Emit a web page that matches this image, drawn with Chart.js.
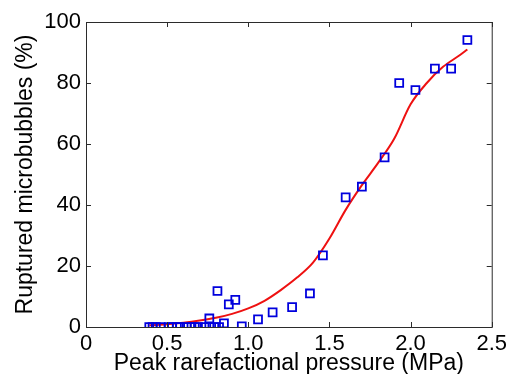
<!DOCTYPE html>
<html>
<head>
<meta charset="utf-8">
<script src="https://cdn.jsdelivr.net/npm/chart.js@4.4.0/dist/chart.umd.min.js"></script>
<style>
  html, body { margin: 0; padding: 0; background: #fff; }
  #wrap { width: 511px; height: 374px; }
</style>
</head>
<body>
<div id="wrap"><canvas id="bubbleChart" width="511" height="374"></canvas></div>
<script>
// measured points
var pressure = [0.39, 0.41, 0.43, 0.46, 0.51, 0.53, 0.56, 0.58, 0.62, 0.65, 0.67, 0.69, 0.73, 0.76, 0.79, 0.82,
                0.76, 0.81, 0.85, 0.88, 0.92, 0.96, 1.06, 1.15, 1.27, 1.38, 1.46, 1.60, 1.70, 1.84, 1.93, 2.03, 2.15, 2.25, 2.35];
var ruptured = [0, 0, 0, 0, 0, 0, 0, 0, 0, 0, 0, 0, 0, 0, 0, 0,
                2.8, 11.8, 1.2, 7.4, 8.9, 0.2, 2.5, 4.8, 6.5, 11, 23.5, 42.5, 46, 55.6, 80, 77.7, 84.7, 84.7, 94.1];

// fitted curve
var fitPressure = [0.39, 0.5, 0.6, 0.7, 0.8, 0.9, 1.0, 1.1, 1.2, 1.3, 1.4, 1.5, 1.6, 1.7, 1.8, 1.9, 2.0, 2.1, 2.2, 2.3, 2.35];
var fitRuptured = [0.6, 0.9, 1.4, 2.1, 3.0, 4.3, 6.1, 8.6, 12.1, 16.2, 21.2, 29, 38.4, 46.5, 53.8, 61.8, 73, 80, 85.3, 89, 91];

var xTicks = [0, 0.5, 1, 1.5, 2, 2.5];
var yTicks = [0, 20, 40, 60, 80, 100];

var points = pressure.map(function (p, i) { return { x: p, y: ruptured[i] }; });
var fitLine = fitPressure.map(function (p, i) { return { x: p, y: fitRuptured[i] }; });

// box round the plot with inward ticks on all four sides
var boxPlugin = {
  id: 'matlabBox',
  afterDraw: function (chart) {
    var ctx = chart.ctx, a = chart.chartArea;
    var xs = chart.scales.x, ys = chart.scales.y;
    var tl = 5;
    ctx.save();
    ctx.strokeStyle = '#2b2b2b';
    ctx.lineWidth = 1;
    ctx.strokeRect(a.left + 0.5, a.top + 0.5, a.right - a.left, a.bottom - a.top);
    ctx.beginPath();
    xTicks.forEach(function (t) {
      var px = Math.round(xs.getPixelForValue(t)) + 0.5;
      ctx.moveTo(px, a.bottom); ctx.lineTo(px, a.bottom - tl);
      ctx.moveTo(px, a.top); ctx.lineTo(px, a.top + tl);
    });
    yTicks.forEach(function (t) {
      var py = Math.round(ys.getPixelForValue(t)) + 0.5;
      ctx.moveTo(a.left, py); ctx.lineTo(a.left + tl, py);
      ctx.moveTo(a.right, py); ctx.lineTo(a.right - tl, py);
    });
    ctx.stroke();
    ctx.restore();
  }
};

var ctx = document.getElementById('bubbleChart').getContext('2d');
new Chart(ctx, {
  type: 'scatter',
  data: {
    datasets: [
      {
        label: 'Measured',
        data: points,
        pointStyle: 'rect',
        pointRadius: 5.6,
        pointBorderWidth: 1.8,
        pointBorderColor: '#0000dd',
        pointBackgroundColor: 'rgba(0,0,0,0)',
        showLine: false,
        order: 1
      },
      {
        label: 'Fit',
        data: fitLine,
        showLine: true,
        borderColor: '#ee1111',
        borderWidth: 2,
        pointRadius: 0,
        cubicInterpolationMode: 'monotone',
        order: 2
      }
    ]
  },
  options: {
    responsive: false,
    animation: false,
    layout: { padding: { top: 22, right: 18, left: 0, bottom: 0 } },
    plugins: { legend: { display: false }, tooltip: { enabled: false } },
    scales: {
      x: {
        type: 'linear',
        min: 0, max: 2.5,
        afterBuildTicks: function (s) { s.ticks = xTicks.map(function (v) { return { value: v }; }); },
        afterFit: function (s) { s.height = 47; },
        grid: { display: false, drawTicks: false },
        border: { display: false },
        ticks: { color: '#000', padding: 4, font: { family: 'Liberation Sans', size: 22 } },
        title: {
          display: true,
          text: 'Peak rarefactional pressure (MPa)',
          color: '#000',
          font: { family: 'Liberation Sans', size: 23 },
          padding: { top: 0, bottom: -3 }
        }
      },
      y: {
        type: 'linear',
        min: 0, max: 100,
        afterBuildTicks: function (s) { s.ticks = yTicks.map(function (v) { return { value: v }; }); },
        afterFit: function (s) { s.width = 86; },
        grid: { display: false, drawTicks: false },
        border: { display: false },
        ticks: { color: '#000', padding: 5, font: { family: 'Liberation Sans', size: 22 } },
        title: {
          display: true,
          text: 'Ruptured microbubbles (%)',
          color: '#000',
          font: { family: 'Liberation Sans', size: 23 },
          padding: { top: 12, bottom: 0 }
        }
      }
    }
  },
  plugins: [boxPlugin]
});
</script>
</body>
</html>
